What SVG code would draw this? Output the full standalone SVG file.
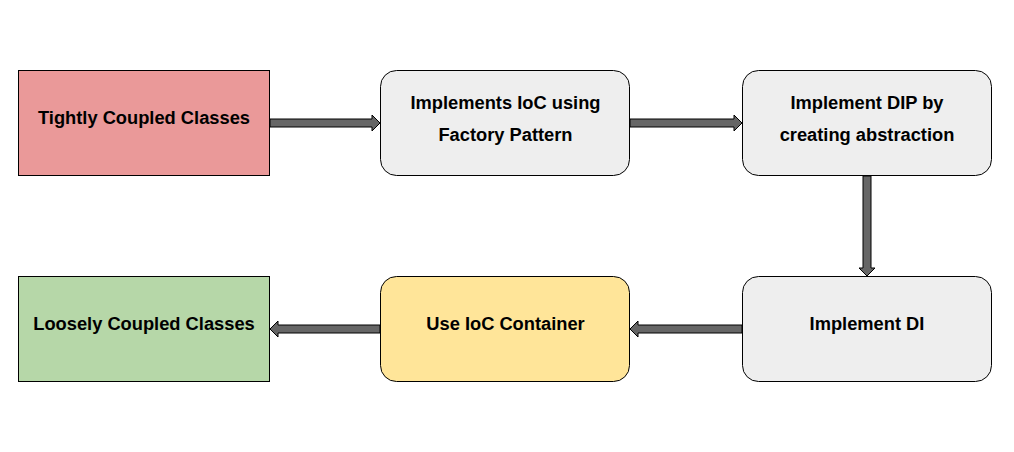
<svg xmlns="http://www.w3.org/2000/svg" width="1014" height="452" viewBox="0 0 1014 452">
<style>
.box{stroke:#000;stroke-width:1}
.lbl{font-family:"Liberation Sans",Arial,sans-serif;font-weight:bold;font-size:18.3px;fill:#000;text-anchor:middle}
.arr{fill:#666666;stroke:#000;stroke-width:1;stroke-linejoin:miter}
</style>
<rect width="1014" height="452" fill="#fff"/>
<g id="connectors">
<polygon class="arr" points="270,119 372,119 372,115 380,123 372,131 372,127 270,127"/>
<polygon class="arr" points="630,119 734,119 734,115 742,123 734,131 734,127 630,127"/>
<polygon class="arr" points="863,176 863,268 859,268 867,276 875,268 871,268 871,176"/>
<polygon class="arr" points="742,325 638,325 638,321 630,329 638,337 638,333 742,333"/>
<polygon class="arr" points="380,325 278,325 278,321 270,329 278,337 278,333 380,333"/>
</g>
<g id="tightly">
<rect class="box" x="18.5" y="70.5" width="251" height="105" fill="#EA9999"/>
<text class="lbl" x="144" y="124">Tightly Coupled Classes</text>
</g>
<g id="factory">
<rect class="box" x="380.5" y="70.5" width="249" height="105" rx="16" fill="#EEEEEE"/>
<text class="lbl" x="505.5" y="109">Implements IoC using</text>
<text class="lbl" x="505.5" y="141">Factory Pattern</text>
</g>
<g id="dip">
<rect class="box" x="742.5" y="70.5" width="249" height="105" rx="16" fill="#EEEEEE"/>
<text class="lbl" x="867" y="109">Implement DIP by</text>
<text class="lbl" x="867" y="141">creating abstraction</text>
</g>
<g id="di">
<rect class="box" x="742.5" y="276.5" width="249" height="105" rx="16" fill="#EEEEEE"/>
<text class="lbl" x="867" y="330">Implement DI</text>
</g>
<g id="container">
<rect class="box" x="380.5" y="276.5" width="249" height="105" rx="16" fill="#FFE599"/>
<text class="lbl" x="505.5" y="330">Use IoC Container</text>
</g>
<g id="loosely">
<rect class="box" x="18.5" y="276.5" width="251" height="105" fill="#B6D7A8"/>
<text class="lbl" x="144" y="330">Loosely Coupled Classes</text>
</g>
</svg>
